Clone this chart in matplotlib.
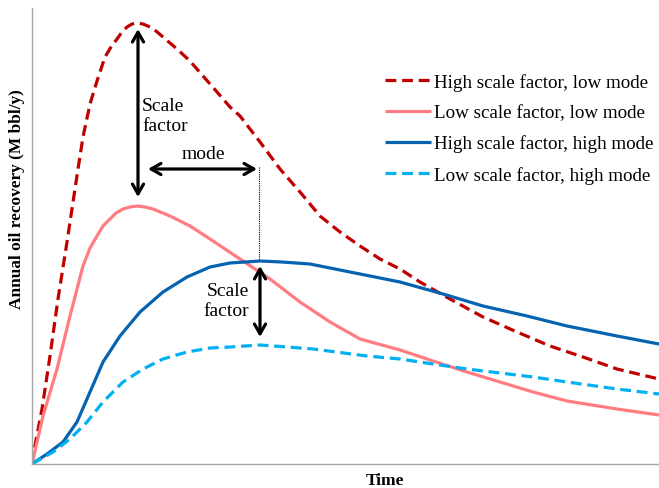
import matplotlib
matplotlib.use("Agg")
from matplotlib import pyplot as plt

plt.rcParams['font.family'] = ['Liberation Serif', 'DejaVu Serif']

# values (time and recovery in arbitrary units)
t_hs_lm = [0, 1, 10, 18, 26, 35, 43, 46, 51, 58, 65, 73, 79, 85, 90, 95, 100, 105, 111,
           118, 124, 131, 145, 158, 171, 185, 198, 208, 228, 248, 268, 288, 308, 328,
           348, 368, 388, 418, 451, 485, 518, 551, 585, 627]
q_hs_lm = [0, 8, 55, 108, 165, 222, 275, 295, 327, 360, 383, 407, 417, 425, 432, 437,
           440, 441, 440, 437, 433, 427, 415, 403, 388, 372, 357, 348, 322, 295, 272,
           248, 232, 218, 205, 195, 182, 165, 147, 132, 118, 107, 95, 85]

t_ls_lm = [0, 11, 25, 38, 51, 58, 65, 71, 78, 84, 91, 98, 105, 113, 121, 138, 158, 178,
           208, 238, 268, 298, 328, 368, 401, 435, 468, 501, 535, 585, 627]
q_ls_lm = [0, 48, 95, 148, 198, 216, 228, 238, 245, 251, 255, 257, 258, 257, 255, 248,
           238, 225, 205, 185, 162, 142, 125, 114, 103, 92, 82, 72, 63, 55, 49]

t_hs_hm = [0, 15, 31, 45, 58, 71, 88, 108, 131, 155, 178, 198, 213, 228, 250, 278, 328,
           368, 411, 451, 495, 535, 585, 627]
q_hs_hm = [0, 10, 22, 42, 72, 102, 128, 152, 172, 187, 197, 201, 202, 203, 202, 200,
           190, 182, 170, 158, 148, 138, 128, 120]

t_ls_hm = [0, 5, 21, 38, 55, 71, 91, 111, 131, 155, 178, 198, 228, 255, 281, 335, 368,
           401, 435, 468, 501, 535, 585, 627]
q_ls_hm = [0, 3, 12, 25, 42, 62, 82, 95, 105, 112, 116, 117, 119, 117, 115, 108, 105,
           100, 95, 91, 87, 82, 75, 70]

labels = ["High scale factor, low mode", "Low scale factor, low mode",
          "High scale factor, high mode", "Low scale factor, high mode"]

fig = plt.figure(figsize=(6.59, 4.89), dpi=100)
ax = fig.add_axes([32/659, 24/489, 627/659, 456/489])

lw = 2.3
opts = dict(lw=lw, solid_joinstyle="round", solid_capstyle="butt")
ax.plot(t_hs_lm, q_hs_lm, color="#C00000", dashes=(3.4, 1.8), label=labels[0], **opts)
ax.plot(t_ls_lm, q_ls_lm, color="#FF7C80", label=labels[1], **opts)
ax.plot(t_hs_hm, q_hs_hm, color="#0563B0", label=labels[2], **opts)
ax.plot(t_ls_hm, q_ls_hm, color="#00B0F0", dashes=(3.4, 1.8), label=labels[3], **opts)

ax.set_xlim(0, 627)
ax.set_ylim(0, 456)
ax.set_xticks([])
ax.set_yticks([])
for s in ["top", "right"]:
    ax.spines[s].set_visible(False)
for s in ["left", "bottom"]:
    ax.spines[s].set_color("#A6A6A6")
    ax.spines[s].set_linewidth(1.0)

arrow = dict(arrowstyle="<->,head_length=0.7,head_width=0.4", color="black", lw=2.3,
             shrinkA=0, shrinkB=0)
ax.annotate("", xy=(106, 435), xytext=(106, 267), arrowprops=arrow)
ax.annotate("", xy=(116, 295), xytext=(225, 295), arrowprops=arrow)
ax.annotate("", xy=(228, 198), xytext=(228, 127), arrowprops=arrow)
ax.plot([227, 227], [297, 205], color="black", lw=0.8, ls=(0, (1, 1)))

ax.text(110, 367, "Scale\nfactor", fontsize=14, va="top", ha="left", linespacing=1.2)
ax.text(171, 302, "mode", fontsize=14, va="bottom", ha="center")
ax.text(217, 182, "Scale\nfactor", fontsize=14, va="top", ha="right", linespacing=1.2)

ax.set_xlabel("Time", fontsize=12.5, fontweight="bold")
ax.set_ylabel("Annual oil recovery (M bbl/y)", fontsize=12.4, fontweight="bold")
ax.xaxis.set_label_coords(0.563, -0.018)
ax.yaxis.set_label_coords(-0.011, 0.583)

ax.legend(loc="upper left", bbox_to_anchor=(0.563, 0.858), frameon=False, fontsize=13.7,
          handlelength=2.4, handletextpad=0.15, labelspacing=0.7, borderpad=0,
          borderaxespad=0)

fig.savefig("out.png", dpi=100)
